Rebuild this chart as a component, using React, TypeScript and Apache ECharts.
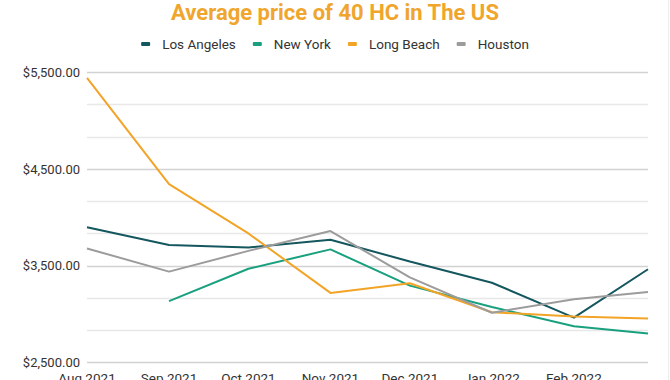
import React, { useEffect, useRef } from "react";
import * as echarts from "echarts";

const months = [
  "2021-08-01",
  "2021-09-01",
  "2021-10-01",
  "2021-11-01",
  "2021-12-01",
  "2022-01-01",
  "2022-02-01",
  "2022-03-01",
];
const losAngeles = [3900, 3715, 3690, 3770, 3545, 3325, 2965, 3465];
const newYork: (number | null)[] = [null, 3135, 3470, 3670, 3295, 3075, 2875, 2800];
const longBeach = [5445, 4345, 3835, 3220, 3320, 3020, 2975, 2955];
const houston = [3680, 3440, 3655, 3860, 3380, 3015, 3155, 3230];
const yTicks = [2500, 3500, 4500, 5500];

const MONTH_NAMES = ["Jan", "Feb", "Mar", "Apr", "May", "Jun", "Jul", "Aug", "Sep", "Oct", "Nov", "Dec"];

function toTime(s: string): number {
  const [y, m, d] = s.split("-").map(Number);
  return new Date(y, m - 1, d).getTime();
}

function fmtMoney(v: number): string {
  const n = Math.round(v);
  const s = String(n).replace(/\B(?=(\d{3})+(?!\d))/g, ",");
  return "$" + s + ".00";
}

export default function App() {
  const ref = useRef<HTMLDivElement>(null);
  useEffect(() => {
    if (!ref.current) return;
    const chart = echarts.init(ref.current, undefined, { renderer: "svg" });
    const mk = (vals: (number | null)[]) =>
      months.map((m, i) => [toTime(m), vals[i] == null ? "-" : vals[i]]);
    const font = "Roboto";
    const xMin = toTime(months[0]);
    const xMax = toTime(months[months.length - 1]);
    const series = [
      { name: "Los Angeles", color: "#14575e", data: losAngeles },
      { name: "New York", color: "#18a07f", data: newYork },
      { name: "Long Beach", color: "#f2a427", data: longBeach },
      { name: "Houston", color: "#9c9c9c", data: houston },
    ];
    chart.setOption({
      animation: false,
      backgroundColor: "#ffffff",
      title: {
        text: "Average price of 40 HC in The US",
        left: "center",
        top: -4,
        textStyle: { color: "#f0a52c", fontSize: 22, fontWeight: "bold", fontFamily: font },
      },
      legend: {
        top: 32,
        left: "center",
        itemWidth: 9,
        itemHeight: 4,
        itemGap: 17,
        icon: "roundRect",
        textStyle: { color: "#333", fontSize: 13.5, fontFamily: font, padding: [0, 0, 0, 7] },
        data: series.map((s) => s.name),
      },
      graphic: [
        {
          type: "line",
          shape: { x1: 668.5, y1: 0, x2: 668.5, y2: 380 },
          style: { stroke: "#eeeeee", lineWidth: 1 },
          silent: true,
        },
      ],
      grid: {
        left: 87,
        right: 22,
        top: 72.5,
        bottom: 17.5,
        containLabel: false,
        outerBoundsMode: "none",
      },
      xAxis: {
        type: "time",
        min: xMin,
        max: xMax,
        splitNumber: 7,
        axisLine: { show: false },
        axisTick: { show: false },
        splitLine: { show: false },
        axisLabel: {
          show: true,
          showMinLabel: true,
          margin: 8,
          color: "#333",
          fontSize: 13.5,
          fontFamily: font,
          formatter: (v: number) => {
            if (v >= xMax) return "";
            const d = new Date(v);
            return MONTH_NAMES[d.getMonth()] + " " + d.getFullYear();
          },
        },
      },
      yAxis: {
        type: "value",
        min: yTicks[0],
        max: yTicks[yTicks.length - 1],
        interval: yTicks[1] - yTicks[0],
        axisLine: { show: false },
        axisTick: { show: false },
        axisLabel: {
          margin: 7,
          color: "#333",
          fontSize: 13,
          fontFamily: font,
          formatter: (v: number) => fmtMoney(v),
        },
        splitLine: { show: true, lineStyle: { color: "#d2d2d2", width: 1.3 } },
        minorTick: { show: false, splitNumber: 3 },
        minorSplitLine: { show: true, lineStyle: { color: "#e8e8e8", width: 1.3 } },
      },
      series: series.map((s) => ({
        name: s.name,
        type: "line",
        data: mk(s.data),
        showSymbol: false,
        symbol: "none",
        lineStyle: { color: s.color, width: 2 },
        itemStyle: { color: s.color },
        connectNulls: false,
      })),
    });
    return () => chart.dispose();
  }, []);
  return (
    <div
      ref={ref}
      style={{ position: "fixed", left: 0, top: 0, width: 670, height: 380 }}
    />
  );
}
